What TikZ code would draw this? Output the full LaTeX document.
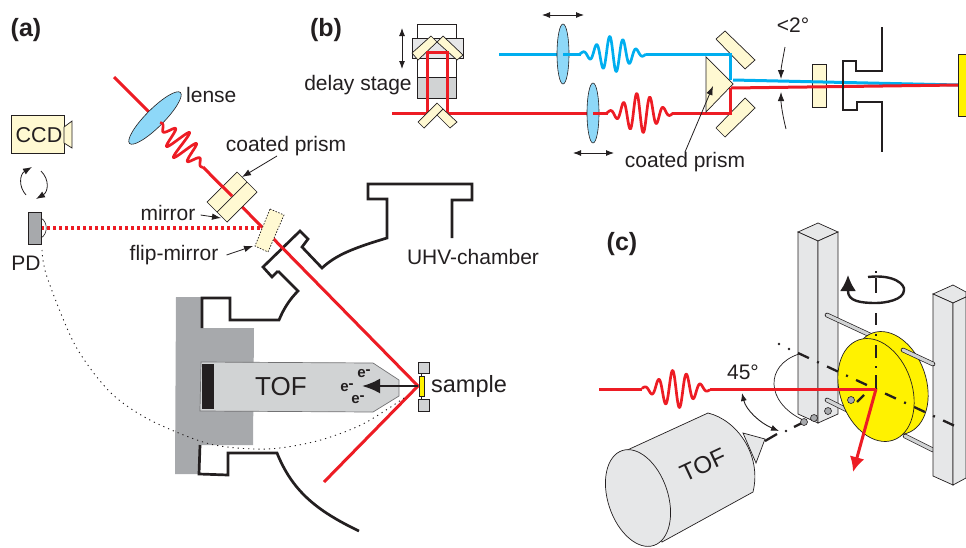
\documentclass[tikz,border=0pt]{standalone}
\usepackage{fontspec}
\setmainfont{Liberation Sans}
\usepackage{xcolor}
\usepackage{tikz}
\usetikzlibrary{arrows.meta,positioning,calc}
\definecolor{ink}{HTML}{231F20}
\definecolor{rd}{HTML}{ED1C24}
\definecolor{bl}{HTML}{00AEEF}
\definecolor{ln}{HTML}{8ED8F8}
\definecolor{cr}{HTML}{FFF9D2}
\definecolor{yl}{HTML}{FFF200}
\definecolor{gd}{HTML}{A7A9AC}
\definecolor{gm}{HTML}{D1D3D4}
\definecolor{gl}{HTML}{E6E7E8}
\tikzset{
  lbl/.style={font=\fontsize{21}{25}\selectfont, inner sep=0pt, text=ink},
  head/.style={font=\fontsize{25}{30}\selectfont\bfseries, inner sep=0pt, text=ink},
  optic/.style={draw=ink, line width=0.7pt, fill=cr},
  lensbody/.style={draw=ink, line width=0.6pt, fill=ln},
  wall/.style={draw=ink, line width=2.7pt, line join=miter},
  redbeam/.style={draw=rd, line width=3pt},
  bluebeam/.style={draw=bl, line width=3pt},
  thinarr/.style={draw=ink, line width=0.8pt, -{Latex[length=9pt,width=6.5pt]}},
  bothways/.style={draw=ink, line width=0.9pt, {Latex[length=8pt,width=6pt]}-{Latex[length=8pt,width=6pt]}},
  plate/.style={draw=ink, line width=0.7pt, fill=gl},
  rod/.style={draw=ink, line width=4.6pt, line cap=round},
  rodin/.style={draw=gm, line width=3.2pt, line cap=round},
  axisline/.style={draw=ink, line width=2.3pt, dash pattern=on 12pt off 9pt on 2pt off 9pt},
  ball/.style={circle, draw=ink, line width=0.6pt, fill=gd, inner sep=0pt, minimum size=7pt},
}
% #1 centre, #2 angle, #3 half length, #4 amplitude, #5 period, #6 colour
\newcommand{\Pulse}[6]{%
  \begin{scope}[shift={#1}, rotate=#2]
    \draw[#6, line width=2.7pt, line join=round, smooth, samples=160, domain=-#3:#3]
      plot (\x, {#4*exp(-(\x/(#3*0.62))^2)*sin(\x*360/#5)});
  \end{scope}}
\begin{document}
\begin{tikzpicture}[x=1pt, y=-1pt]
  \useasboundingbox (0,0) rectangle (966,547);
  \node[head] (heada) at (26,30) {(a)};
  \node[head] (headb) at (326,30) {(b)};
  \node[head] (headc) at (622,244) {(c)};

  % panel (a)
  \coordinate (beamin) at (114,77);
  \coordinate (lensmid) at (155,118);
  \coordinate (wavea) at (160,123);
  \coordinate (waveb) at (203,167);
  \coordinate (hit) at (418,386);
  \coordinate (beamout) at (324,482);
  \coordinate (pdface) at (41,228);
  \coordinate (flipface) at (262,228);

  \fill[gd] (176,297) -- (202,297) -- (202,328) -- (254,328) -- (253,445) -- (200,445) -- (199,474) -- (175,474) -- cycle;
  \draw[wall] (278,271) -- (272,277) -- (263,267) -- (300,231) -- (308,239) -- (302,247) -- (322,268)
    .. controls (335,256) and (350,249) .. (387,238) -- (387,199) -- (368,199) -- (368,184) -- (472,184) -- (472,200) -- (452,200) -- (452,238);
  \draw[wall] (202,328) -- (202,298) -- (230,298) -- (230,320) -- (279,320) .. controls (284,308) and (290,299) .. (298,291) -- (278,271);
  \draw[wall] (200,445) -- (199,474) -- (228,475) -- (228,453) -- (277,453) .. controls (292,490) and (315,510) .. (359,531);
  \draw[draw=gd!60!ink, line width=0.7pt, fill=gm] (201,362) -- (373,363) -- (399,380) -- (399,396) -- (373,412) -- (200,411) -- cycle;
  \fill[ink] (202,364) rectangle (214,409);
  \node[lbl, font=\fontsize{26}{30}\selectfont] (toflbl) at (281,387) {TOF};
  \node[font=\fontsize{15}{18}\selectfont\bfseries, inner sep=0pt, text=ink] (ea) at (364,374) {e\raisebox{3pt}{-}};
  \node[font=\fontsize{15}{18}\selectfont\bfseries, inner sep=0pt, text=ink] (eb) at (347,388) {e\raisebox{3pt}{-}};
  \node[font=\fontsize{15}{18}\selectfont\bfseries, inner sep=0pt, text=ink] (ec) at (358,400) {e\raisebox{3pt}{-}};

  \draw[redbeam] (beamin) -- (lensmid);
  \draw[redbeam] (waveb) -- (hit) -- (beamout);
  \draw[draw=rd, line width=3.4pt, dash pattern=on 3pt off 3pt] (pdface) -- (flipface);
  \draw[ink, line width=0.9pt, dash pattern=on 1.2pt off 4pt] plot[smooth] coordinates {(42,250) (47,277) (75,345) (110,392) (150,420) (210,444) (267,449) (317,441) (363,424) (407,396)};
  \draw[redbeam, line width=2.7pt] (lensmid) -- (wavea);
  \draw[lensbody, rotate around={45:(lensmid)}] (lensmid) ellipse [x radius=36, y radius=9];
  \Pulse{(181.5,145)}{-45}{31}{15}{13}{rd}
  \draw[optic] (237,172) -- (257,192) -- (227,222) -- (207,202) -- cycle;
  \draw[ink, line width=0.7pt] (217,212) -- (247,182);
  \draw[redbeam] (222,186) -- (232,196);
  \draw[optic, dash pattern=on 1.5pt off 1.5pt] (270,209) -- (284,215) -- (268,252) -- (255,246) -- cycle;

  \node[lbl, anchor=west] (lense) at (186,95) {lense};
  \node[lbl] (cpa) at (286,146) {coated prism};
  \node[lbl] (mirror) at (168,213) {mirror};
  \node[lbl] (flip) at (174,255) {flip-mirror};
  \coordinate (cptip) at (242,177);
  \coordinate (mirrortip) at (221,218);
  \coordinate (fliptip) at (253,246);
  \draw[thinarr] (cpa.-132) -- (cptip);
  \draw[thinarr] (mirror.east) ++(5,2) coordinate (mirrorfoot) -- (mirrortip);
  \draw[thinarr] (flip.east) ++(8,0) coordinate (flipfoot) -- (fliptip);

  \draw[optic] (11,115) rectangle (64,153);
  \draw[optic] (64,127) -- (72,121) -- (72,148) -- (64,143) -- cycle;
  \node[lbl, font=\fontsize{21.5}{25}\selectfont] (ccd) at (39,135) {CCD};
  \draw[thinarr] (26,195) .. controls (18,186) and (20,174) .. (32,167);
  \draw[thinarr] (41,171) .. controls (50,180) and (48,192) .. (36,199);
  \draw[ink, line width=0.6pt, fill=gd] (28,212) rectangle (41,244);
  \draw[ink, line width=0.6pt] (41,218) .. controls (48,222) and (48,234) .. (41,238);
  \node[lbl] (pd) at (26,263) {PD};

  \draw[draw=ink, line width=0.6pt] (421,373) -- (421,399);
  \draw[draw=ink, line width=0.6pt, fill=gm] (418,362) rectangle (429,373);
  \draw[draw=ink, line width=0.6pt, fill=gm] (418,399) rectangle (429,411);
  \draw[draw=ink, line width=0.8pt, fill=yl] (419,376) rectangle (424,396);
  \node[lbl, font=\fontsize{23.5}{28}\selectfont] (samplelbl) at (469,386) {sample};
  \draw[draw=ink, line width=2.6pt, -{Latex[length=18pt,width=15pt]}] (hit) -- (362,386);
  \node[lbl] (uhv) at (473,257) {UHV-chamber};

  % panel (b)
  \draw[draw=ink, line width=0.7pt] (417,38) -- (417,24) -- (456,24) -- (456,38);
  \draw[draw=ink, line width=0.7pt, fill=gl] (412,38) rectangle (463,58);
  \draw[draw=ink, line width=0.7pt, fill=white] (417,58) rectangle (456,98);
  \draw[draw=ink, line width=0.7pt, fill=gm] (417,77) rectangle (456,98);
  \draw[optic] (412,53) -- (431,36) -- (437,42) -- (418,60) -- cycle;
  \draw[optic] (443,36) -- (463,55) -- (457,60) -- (437,42) -- cycle;
  \draw[bothways] (402,28) -- (402,69);
  \node[lbl] (delay) at (358,85) {delay stage};

  \coordinate (redin) at (392,113);
  \coordinate (blueout) at (499,54);
  \coordinate (apexblue) at (733,80);
  \coordinate (apexred) at (731,88);
  \coordinate (target) at (958,85);
  \draw[redbeam] (redin) -- (427,113) -- (427,52) -- (447,52) -- (447,113) -- (607,113);
  \draw[optic] (418,122) -- (437,103) -- (443,109) -- (424,128) -- cycle;
  \draw[optic] (443,109) -- (457,122) -- (450,128) -- (437,115) -- cycle;
  \draw[bluebeam] (blueout) -- (581,54);
  \draw[lensbody] (563,54) ellipse [x radius=6, y radius=30];
  \draw[lensbody] (593,113) ellipse [x radius=6, y radius=30];
  \draw[redbeam] (593,113) -- (608,113);
  \draw[bluebeam] (563,54) -- (581,54);
  \Pulse{(613,54)}{0}{33}{18}{13.3}{bl}
  \Pulse{(640,113)}{0}{33}{20}{13.3}{rd}
  \draw[bothways] (542,15) -- (584,15);
  \draw[bothways] (573,153) -- (614,153);

  \draw[optic] (716,39) -- (725,31) -- (755,60) -- (745,69) -- cycle;
  \draw[optic] (716,128) -- (745,98) -- (755,108) -- (725,137) -- cycle;
  \draw[bluebeam] (646,54) -- (730,54) -- (730,80);
  \draw[redbeam] (672,113) -- (730,113) -- (730,88);
  \draw[optic] (706,57) -- (733,84) -- (706,112) -- cycle;
  \draw[optic] (812,64) rectangle (826,107);
  \draw[bluebeam] (apexblue) -- (target);
  \draw[redbeam] (apexred) -- (target);
  \draw[wall] (882,27) -- (882,71) -- (856,71) -- (856,61) -- (843,61) -- (843,110) -- (857,110) -- (857,102) -- (882,102) -- (882,152);
  \draw[draw=ink, line width=0.6pt, fill=yl] (958,54) -- (966,54) -- (966,116) -- (958,116) -- cycle;
  \node[lbl] (angleb) at (793,25) {<2°};
  \coordinate (anglea) at (781,79);
  \coordinate (anglec) at (781,92);
  \draw[thinarr] (785,47) .. controls (783,58) and (781,68) .. (anglea);
  \draw[thinarr] (786,129) .. controls (783,117) and (781,105) .. (anglec);
  \node[lbl] (cpb) at (685,162) {coated prism};
  \coordinate (cpbtip) at (713,86);
  \draw[thinarr] (cpb.north) -- (cpbtip);

  % panel (c)
  \draw[rod] (905,436) -- (933,450);
  \draw[rodin] (905,436) -- (933,450);
  \draw[plate] (933,294) -- (953,285) -- (966,292) -- (966,297) -- (953,303) -- cycle;
  \draw[plate] (933,294) -- (953,303) -- (953,485) -- (933,476) -- cycle;
  \draw[plate] (953,303) -- (966,297) -- (966,478) -- (953,485) -- cycle;
  \draw[plate] (798,232) -- (818,223) -- (838,232) -- (818,241) -- cycle;
  \draw[plate] (798,232) -- (818,241) -- (818,423) -- (798,414) -- cycle;
  \draw[plate] (818,241) -- (838,232) -- (838,414) -- (818,423) -- cycle;
  \draw[rod] (827,315) -- (870,335);
  \draw[rodin] (827,315) -- (870,335);
  \draw[rod] (827,400) -- (853,413);
  \draw[rodin] (827,400) -- (853,413);
  \draw[ink, line width=0.7pt, fill=yl, rotate around={-71:(890,383)}] (890,383) ellipse [x radius=53, y radius=36];
  \draw[rod] (903,350) -- (933,364);
  \draw[rodin] (903,350) -- (933,364);
  \draw[ink, line width=0.7pt, fill=yl, rotate around={-71:(876,390)}] (876,390) ellipse [x radius=53, y radius=36];

  \draw[ink, line width=0.7pt] (799,354) .. controls (765,365) and (765,402) .. (803,420);
  \draw[axisline] (798,353) -- (955,426);
  \fill[ink] (779,344) circle (1.3pt);
  \fill[ink] (789,349) circle (1.3pt);
  \draw[draw=ink, line width=2.3pt, dash pattern=on 2pt off 5pt on 15pt off 20pt on 12pt off 9pt on 2pt off 9pt on 13pt off 8pt on 2pt off 7pt on 15pt off 100pt] (876,271) -- (876,390);
  \draw[draw=ink, line width=2.3pt] (857,402) -- (864,395);
  \draw[draw=ink, line width=2.3pt] (765,441) -- (777,434);
  \draw[draw=ink, line width=2.3pt] (794,427) -- (804,422);
  \fill[ink] (786,431) circle (1.3pt);
  \node[ball] (balla) at (804,422) {};
  \node[ball] (ballb) at (814,418) {};
  \node[ball] (ballc) at (828,411) {};
  \node[ball] (balld) at (851,400) {};

  \draw[draw=ink, line width=2.4pt, -{Latex[length=16pt,width=16pt]}] (868,277) .. controls (895,274) and (905,285) .. (904,290)
    .. controls (904,300) and (885,303) .. (876,303) .. controls (860,303) and (848,301) .. (848,291) -- (848,275);

  \coordinate (redstart) at (599,389);
  \coordinate (spot) at (876,389);
  \coordinate (reflect) at (853,472);
  \draw[redbeam] (redstart) -- (642,389);
  \Pulse{(676,389)}{0}{34}{19}{14}{rd}
  \draw[redbeam] (710,389) -- (spot);
  \draw[redbeam, -{Latex[length=15pt,width=15pt]}] (spot) -- (reflect);

  \draw[ink, line width=0.7pt, fill=gl] (743,433) -- (765,439) -- (756,463) -- cycle;
  \draw[ink, line width=0.7pt, fill=gl] (623,452) -- (708,413) .. controls (737,420) and (762,455) .. (753,492) -- (662,542) -- cycle;
  \draw[ink, line width=0.7pt, fill=gl, rotate around={-71.5:(638,498)}] (638,498) ellipse [x radius=50, y radius=30];
  \node[lbl, font=\fontsize{24}{28}\selectfont, rotate=25] (tofc) at (703,465) {TOF};
  \node[lbl] (deg) at (743,372) {45°};
  \coordinate (arca) at (742,393);
  \coordinate (arcb) at (779,431);
  \draw[bothways] (arca) .. controls (746,410) and (760,423) .. (arcb);
\end{tikzpicture}
\end{document}
